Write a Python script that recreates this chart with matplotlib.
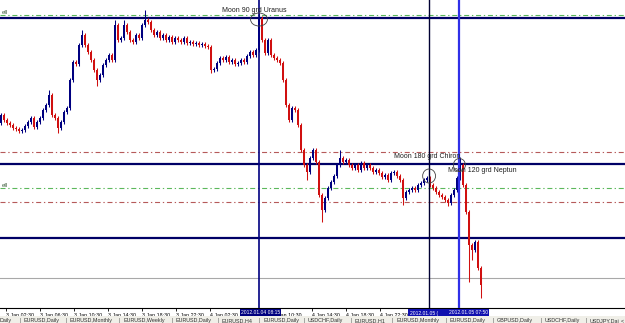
import matplotlib
matplotlib.use("Agg")
import matplotlib.pyplot as plt
from matplotlib.patches import Ellipse, Rectangle
from matplotlib.transforms import blended_transform_factory

# closing prices of each bar (EURUSD, 3-5 Jan 2012), open = previous close
closes = [1.2985, 1.2980, 1.2977, 1.2975, 1.2972, 1.2971, 1.2969, 1.2970, 1.2974, 1.2978,
          1.2982, 1.2973, 1.2978, 1.2982, 1.2990, 1.2995, 1.3005, 1.2985, 1.2982, 1.2972,
          1.2978, 1.2988, 1.2992, 1.3020, 1.3038, 1.3036, 1.3055, 1.3065, 1.3055, 1.3048,
          1.3040, 1.3030, 1.3020, 1.3025, 1.3035, 1.3040, 1.3045, 1.3040, 1.3075, 1.3060,
          1.3062, 1.3075, 1.3068, 1.3060, 1.3058, 1.3065, 1.3062, 1.3075, 1.3080, 1.3078,
          1.3070, 1.3065, 1.3068, 1.3062, 1.3065, 1.3060, 1.3063, 1.3058, 1.3062, 1.3060,
          1.3058, 1.3062, 1.3057, 1.3058, 1.3056, 1.3057, 1.3055, 1.3056, 1.3054, 1.3053,
          1.3030, 1.3031, 1.3037, 1.3042, 1.3040, 1.3043, 1.3038, 1.3040, 1.3036, 1.3037,
          1.3040, 1.3038, 1.3044, 1.3048, 1.3045, 1.3050, 1.3082, 1.3060, 1.3047, 1.3060,
          1.3045, 1.3042, 1.3040, 1.3037, 1.3020, 1.2995, 1.2980, 1.2992, 1.2990, 1.2975,
          1.2950, 1.2935, 1.2928, 1.2942, 1.2950, 1.2938, 1.2905, 1.2890, 1.2902, 1.2912,
          1.2918, 1.2924, 1.2935, 1.2942, 1.2938, 1.2940, 1.2935, 1.2932, 1.2935, 1.2930,
          1.2937, 1.2932, 1.2935, 1.2932, 1.2928, 1.2930, 1.2927, 1.2923, 1.2925, 1.2920,
          1.2927, 1.2928, 1.2924, 1.2920, 1.2902, 1.2908, 1.2910, 1.2912, 1.2910, 1.2915,
          1.2917, 1.2920, 1.2922, 1.2915, 1.2912, 1.2908, 1.2905, 1.2903, 1.2900, 1.2897,
          1.2905, 1.2910, 1.2922, 1.2935, 1.2915, 1.2888, 1.2855, 1.2850, 1.2858, 1.2832,
          1.2815]
first_open = 1.2977

# bars whose wicks reach past the normal shadow
spike_highs = {16: 1.3010, 27: 1.3070, 38: 1.3080, 41: 1.3080, 48: 1.3090,
               86: 1.3087, 113: 1.2950, 153: 1.2943}
spike_lows = {19: 1.2967, 32: 1.3014, 70: 1.3027, 102: 1.2920, 107: 1.2878,
              134: 1.2895, 149: 1.2894, 156: 1.2818, 157: 1.2840, 160: 1.2802}
wick = 0.0002

# horizontal levels
green_levels = [1.3085, 1.2912]
brown_levels = [1.2948, 1.2898]
navy_levels = [1.3082, 1.2936, 1.2862]
bid_level = 1.2822

# vertical event lines (bar index) and their notes
events = [86.0, 142.7, 152.8]
notes = ["Moon 90 grd Uranus", "Moon 180 grd Chiron", "Moon 120 grd Neptun"]
note_prices = [1.3090, 1.2943, 1.2930]
circle_prices = [1.30805, 1.2924, 1.2935]

# time scale (labels hidden under the cursor boxes are left out)
tick_pos = [1.7, 13.0, 24.3, 35.7, 47.0, 58.3, 69.7, 81.0, 92.3, 103.7, 115.0, 126.3, 137.7]
tick_labels = ["3 Jan 02:30", "3 Jan 06:30", "3 Jan 10:30", "3 Jan 14:30", "3 Jan 18:30",
               "3 Jan 22:30", "4 Jan 02:30", "", "Jan 10:30", "4 Jan 14:30",
               "4 Jan 18:30", "4 Jan 22:30", ""]
cursor_labels = ["2012.01.04 08:15", "2012.01.05 (", "2012.01.05 07:50"]

tabs = ["Daily", "EURUSD,Daily", "EURUSD,Monthly", "EURUSD,Weekly", "EURUSD,Daily",
        "EURUSD,H4", "EURUSD,Daily", "USDCHF,Daily", "EURUSD,H1", "EURUSD,Monthly",
        "EURUSD,Daily", "GBPUSD,Daily", "USDCHF,Daily", "USDJPY,Dai"]
tab_x = [0, 24, 70, 123, 176, 222, 263, 308, 355, 396, 450, 497, 545, 590]

plt.rcParams['font.family'] = ['Liberation Sans', 'DejaVu Sans']

W, H = 625, 323
fig = plt.figure(figsize=(W / 100, H / 100), dpi=100)
fig.patch.set_facecolor("white")
ax = fig.add_axes([0, (H - 308) / H, 1, 308 / H])
ax.set_xlim(-0.33, (W - 1) / 3)
ax.set_ylim(1.2792, 1.3100)
for s in ["top", "left", "right"]:
    ax.spines[s].set_visible(False)
ax.spines["bottom"].set_linewidth(0.8)
ax.set_yticks([])

# levels
for y in green_levels:
    ax.axhline(y, color="#5cb85c", lw=0.8, dashes=(4.5, 2.5, 1.2, 2.5), zorder=1)
for y in brown_levels:
    ax.axhline(y, color="#b65a5a", lw=0.8, dashes=(4.5, 2.5, 1.2, 2.5), zorder=1)
for y in navy_levels:
    ax.axhline(y, color="#000066", lw=1.6, zorder=1)
ax.axhline(bid_level, color="#a8a8a8", lw=0.8, zorder=1)

# candles
opens = [first_open] + closes[:-1]
for i, (o, c) in enumerate(zip(opens, closes)):
    col = "#000080" if c >= o else "#d01010"
    hi = spike_highs.get(i, max(o, c) + wick)
    lo = spike_lows.get(i, min(o, c) - wick)
    ax.vlines(i, lo, hi, color=col, lw=0.75, zorder=3)
    body = max(abs(c - o), 0.00005)
    ax.bar(i, body, bottom=min(o, c), width=0.65, color=col, lw=0, zorder=4)

# event lines
ax.axvline(events[0], color="#000080", lw=1.2, zorder=5)
ax.axvline(events[1], color="#000033", lw=1.0, zorder=5)
ax.axvline(events[2], color="#3030e8", lw=1.6, zorder=5)

note_ha = ["center", "center", "left"]
note_x = [events[0] - 1.5, events[1] - 0.7, events[2] - 3.8]
for x, y, t, ha in zip(note_x, note_prices, notes, note_ha):
    ax.text(x, y, t, fontsize=5, ha=ha, va="center", color="#202020", zorder=6)
circle_w = [5.6, 4.3, 4.0]
circle_h = [0.0013, 0.0014, 0.0013]
for x, y, w, h in zip(events, circle_prices, circle_w, circle_h):
    ax.add_patch(Ellipse((x, y), w, h, fill=False, ec="#404040", lw=0.6, zorder=6))

ax.text(0.3, 1.3087, "ell", fontsize=4.5, ha="left", va="center", color="#406040")
ax.text(0.3, 1.2914, "ell", fontsize=4.5, ha="left", va="center", color="#406040")

# time axis
ax.set_xticks(tick_pos)
ax.set_xticklabels(tick_labels, fontsize=3.8, ha="left")
ax.tick_params(axis="x", length=2.5, width=0.6, pad=1.0, direction="out")

# cursor date boxes on the time scale
trans = blended_transform_factory(ax.transData, fig.transFigure)
box_left = [79.7, 135.7, 149.0]
box_right = [93.3, 149.0, 162.7]
box_cols = ["#000080", "#1010b0", "#1010b0"]
box_ha = ["center", "left", "center"]
for l, r, c, t, ha in zip(box_left, box_right, box_cols, cursor_labels, box_ha):
    ax.add_patch(Rectangle((l, (H - 317.5) / H), r - l, 9 / H, transform=trans,
                           fc=c, ec="none", clip_on=False, zorder=3))
    tx = (l + r) / 2 if ha == "center" else l + 0.6
    ax.text(tx, (H - 313) / H, t, transform=trans, fontsize=3.6, color="white",
            ha=ha, va="center", clip_on=False, zorder=4)

# tab strip
fig.patches.append(plt.Rectangle((0, 0), 1, 7 / H, transform=fig.transFigure,
                                 fc="#f0efe8", ec="none", zorder=0))
for x, t in zip(tab_x, tabs):
    fig.text(x / W, 2.5 / H, t, fontsize=3.9, ha="left", va="center", color="#303030")
    if x > 0:
        fig.text((x - 4) / W, 2.5 / H, "|", fontsize=3.9, ha="center", va="center", color="#606060")
fig.text(622 / W, 2.5 / H, "<", fontsize=3.9, ha="center", va="center", color="#303030")

fig.savefig("out.png", dpi=100)
